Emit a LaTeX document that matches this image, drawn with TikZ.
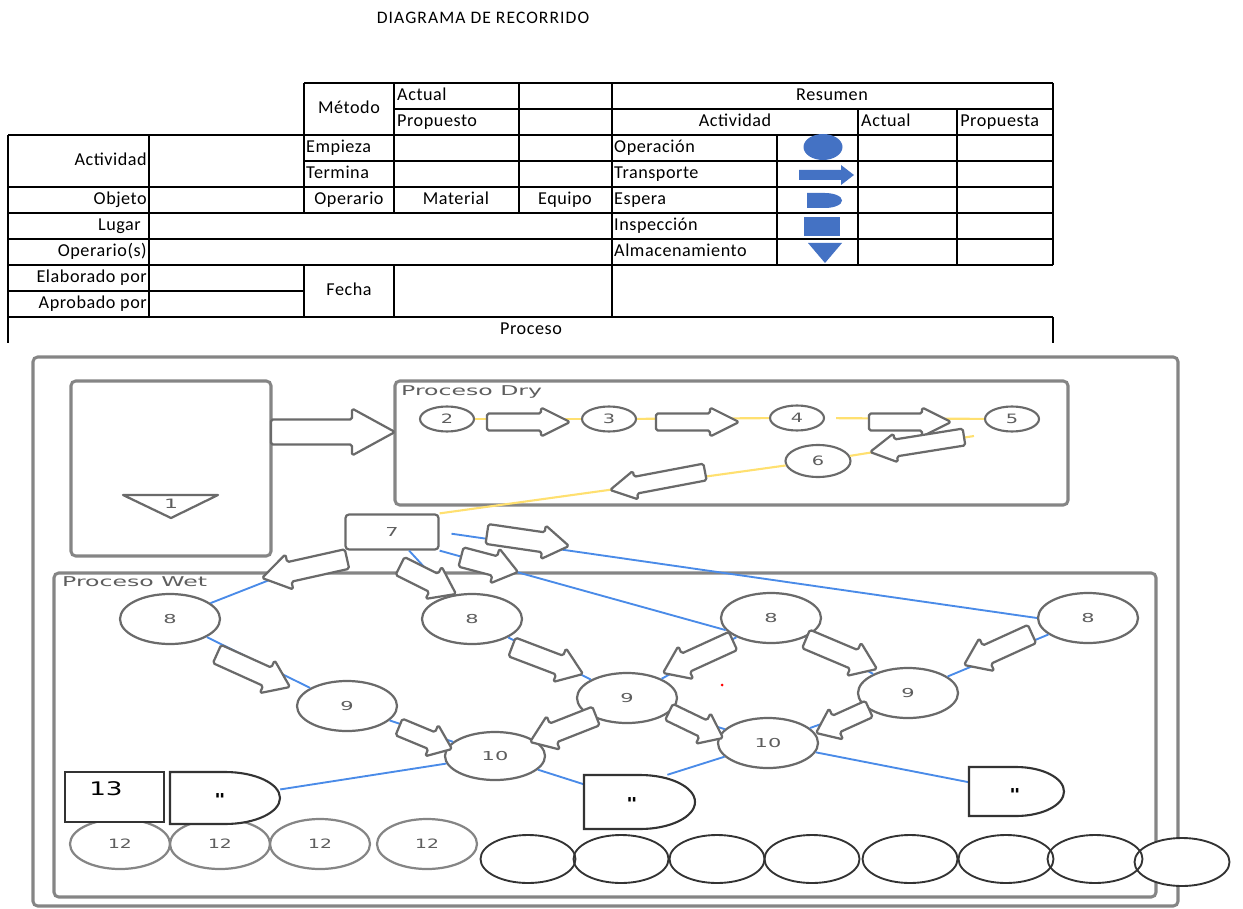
\documentclass[tikz,border=0pt]{standalone}
\usepackage{fontspec}
\usepackage{graphicx}
\setmainfont{Carlito}
\newfontfamily\tabfont[LetterSpace=3.0]{Carlito}
\newfontfamily\titfont[LetterSpace=6.0]{Carlito}
\newfontfamily\dgfont{DejaVu Sans}
\usetikzlibrary{shapes.geometric,calc}
\definecolor{tblue}{HTML}{4472C4}
\definecolor{lblue}{HTML}{4A8BE8}
\definecolor{lyel}{HTML}{FFE070}
\definecolor{cgray}{HTML}{6A6A6A}
\definecolor{boxgray}{HTML}{858585}
\definecolor{tgray}{HTML}{5E5E5E}
\definecolor{dk}{HTML}{333333}
\newcommand\dgs[1]{\scalebox{1.7}[1]{#1}}
\newcommand\blkarrow[7]{%
  \pgfmathsetmacro\bdx{#3-#1}%
  \pgfmathsetmacro\bdy{#4-#2}%
  \pgfmathsetmacro\blen{veclen(\bdx,\bdy)}%
  \pgfmathsetmacro\bang{atan2(\bdy,\bdx)}%
  \pgfmathsetmacro\bhb{\blen-#7}%
  \begin{scope}[shift={(#1,#2)},rotate=-\bang]
    \draw[barr] (0,-#5) -- (\bhb,-#5) -- (\bhb,-#6) -- (\blen,0) -- (\bhb,#6) -- (\bhb,#5) -- (0,#5) -- cycle;
  \end{scope}}
\begin{document}
\begin{tikzpicture}[x=0.03cm,y=-0.03cm,
  tbl/.style={line width=1.1pt, black},
  tt/.style={inner sep=0pt, font=\tabfont\fontsize{15.5}{18}\selectfont, text height=11pt, text depth=3pt},
  gbox/.style={draw=boxgray, line width=2.6pt, rounded corners=4pt},
  circ/.style={ellipse, draw=cgray, line width=1.9pt, fill=white, inner sep=0pt, text=tgray, font=\dgfont\fontsize{10.5}{12}\selectfont},
  dcirc/.style={circ, line width=1.8pt, minimum width=1.62cm, minimum height=0.75cm, font=\dgfont\fontsize{11}{12}\selectfont},
  wcirc/.style={circ, minimum width=3cm, minimum height=1.5cm},
  bcirc/.style={ellipse, draw=dk, line width=1.6pt, inner sep=0pt, minimum width=2.85cm, minimum height=1.44cm},
  barr/.style={draw=cgray, line width=1.9pt, fill=white, line join=round, rounded corners=1.5pt},
  bl/.style={draw=lblue, line width=1.6pt},
  yl/.style={draw=lyel, line width=1.8pt},
  lab/.style={inner sep=0pt, text=tgray, font=\dgfont\fontsize{11.5}{13}\selectfont},
  dsh/.style={draw=dk, line width=1.8pt, fill=white},
]
\useasboundingbox (0,0) rectangle (1243,909);
% ---------- title ----------
\node[font=\titfont\fontsize{15}{18}\selectfont] (title) at (483,18) {DIAGRAMA DE RECORRIDO};
% ---------- table lines ----------
\draw[tbl] (304,83)--(1053,83) (394,109)--(1053,109) (8,135)--(1053,135)
  (304,161)--(1053,161) (8,187)--(1053,187) (8,213)--(1053,213)
  (8,239)--(1053,239) (8,265)--(1053,265) (8,291)--(304,291) (8,317)--(1053,317);
\draw[tbl] (8,135)--(8,343) (149,135)--(149,317)
  (304,83)--(304,213) (304,265)--(304,317)
  (394,83)--(394,213) (394,265)--(394,317)
  (519,83)--(519,213) (612,83)--(612,317)
  (777,135)--(777,265) (858,109)--(858,265) (957,109)--(957,265)
  (1053,83)--(1053,265) (1053,317)--(1053,343);
% ---------- table texts ----------
\node[tt] (tMet) at (349,109) {Método};
\node[tt,anchor=west] (tAct1) at (397,96) {Actual};
\node[tt,anchor=west] (tProp1) at (397,122) {Propuesto};
\node[tt] (tRes) at (832,96) {Resumen};
\node[tt] (tActv2) at (735,122) {Actividad};
\node[tt,anchor=west] (tAct2) at (861,122) {Actual};
\node[tt,anchor=west] (tProp2) at (960,122) {Propuesta};
\node[tt,anchor=east] (tActv) at (147,161) {Actividad};
\node[tt,anchor=west] (tEmp) at (306,148) {Empieza};
\node[tt,anchor=west] (tTer) at (306,174) {Termina};
\node[tt,anchor=west] (tOpe) at (614,148) {Operación};
\node[tt,anchor=west] (tTra) at (614,174) {Transporte};
\node[tt,anchor=west] (tEsp) at (614,200) {Espera};
\node[tt,anchor=west] (tIns) at (614,226) {Inspección};
\node[tt,anchor=west] (tAlm) at (614,252) {Almacenamiento};
\node[tt,anchor=east] (tObj) at (147,200) {Objeto};
\node[tt] (tOpr) at (349,200) {Operario};
\node[tt] (tMat) at (456,200) {Material};
\node[tt] (tEqu) at (565,200) {Equipo};
\node[tt,anchor=east] (tLug) at (141,226) {Lugar};
\node[tt,anchor=east] (tOps) at (147,252) {Operario(s)};
\node[tt,anchor=east] (tEla) at (147,278) {Elaborado por};
\node[tt,anchor=east] (tApr) at (147,304) {Aprobado por};
\node[tt] (tFec) at (349,291) {Fecha};
\node[tt] (tPro) at (531,330) {Proceso};
% ---------- symbols ----------
\node[ellipse, fill=tblue, inner sep=0pt, minimum width=1.17cm, minimum height=0.78cm] (sOp) at (823,147) {};
\fill[tblue] (799,170) -- (841,170) -- (841,165) -- (854,175) -- (841,185) -- (841,180) -- (799,180) -- cycle;
\fill[tblue] (807,193) -- (825,193) arc[start angle=90,end angle=-90,x radius=0.51cm,y radius=0.225cm] -- (807,208) -- cycle;
\fill[tblue] (804,217) rectangle (840,236);
\fill[tblue] (808,243) -- (842,243) -- (825,263) -- cycle;
% ---------- containers ----------
\draw[gbox] (33,357) rectangle (1178,906);
\draw[gbox] (71,381) rectangle (271,556);
\draw[gbox] (395,381) rectangle (1068,505);
\draw[gbox] (54,573) rectangle (1156,897);
\node[lab,anchor=west] (ldry) at (401,392) {\scalebox{1.75}[1]{Proceso Dry}};
\node[lab,anchor=west] (lwet) at (62,582) {\scalebox{1.75}[1]{Proceso Wet}};
% storage triangle
\draw[draw=cgray, line width=1.9pt, line join=round] (123,495) -- (218,495) -- (171,518) -- cycle;
\node[lab, font=\dgfont\fontsize{11}{12}\selectfont] (t1) at (171,504) {\dgs{1}};
% ---------- nodes ----------
\node[dcirc] (d2) at (447,419) {\scalebox{1.5}[1]{2}};
\node[dcirc] (d3) at (609,419) {\scalebox{1.5}[1]{3}};
\node[dcirc] (d4) at (797,418) {\scalebox{1.5}[1]{4}};
\node[dcirc] (d5) at (1012,419) {\scalebox{1.5}[1]{5}};
\node[dcirc, minimum width=1.95cm, minimum height=0.96cm] (d6) at (818,461) {\scalebox{1.5}[1]{6}};
\node[draw=cgray, line width=1.9pt, rounded corners=3pt, fill=white, minimum width=2.79cm, minimum height=1.05cm, inner sep=0pt, text=tgray, font=\dgfont\fontsize{10.5}{12}\selectfont] (n7) at (392,532) {\dgs{7}};
\node[wcirc] (w8a) at (170,619) {\dgs{8}};
\node[wcirc] (w8b) at (472,619) {\dgs{8}};
\node[wcirc] (w8c) at (771,618) {\dgs{8}};
\node[wcirc] (w8d) at (1088,618) {\dgs{8}};
\node[wcirc] (w9a) at (347,706) {\dgs{9}};
\node[wcirc] (w9b) at (627,698) {\dgs{9}};
\node[wcirc] (w9c) at (908,693) {\dgs{9}};
\node[wcirc, minimum height=1.44cm] (w10a) at (495,756) {\dgs{10}};
\node[wcirc] (w10b) at (768,743) {\dgs{10}};
% delay shapes and box 13
\node[inner sep=0pt, minimum width=3.3cm, minimum height=1.56cm] (dA) at (225,798) {};
\node[inner sep=0pt, minimum width=3.33cm, minimum height=1.62cm] (dB) at (639.5,802) {};
\node[inner sep=0pt, minimum width=2.85cm, minimum height=1.47cm] (dC) at (1016.5,791.5) {};
% ---------- connectors ----------
\draw[yl] (d2) -- (d3);
\draw[yl] (d3) -- (d4);
\draw[yl, shorten <=0.33cm] (d4) -- (d5);
\coordinate (y5) at (974,436);
\draw[yl] (y5) -- (d6);
\draw[yl] (d6) -- (n7.north east);
\draw[bl] (n7) -- (w8a);
\draw[bl] (n7) -- (w8b);
\draw[bl] (n7.south east) -- (w8c.195);
\draw[bl, shorten <=0.36cm] (n7.east) -- (w8d.west);
\draw[bl] (w8a) -- (w9a);
\draw[bl] (w9a) -- (w10a);
\draw[bl] (w8b) -- (w9b);
\draw[bl] (w8c) -- (w9b);
\draw[bl] (w8c) -- (w9c);
\draw[bl] (w8d) -- (w9c);
\draw[bl] (w9b) -- (w10a);
\draw[bl] (w9b) -- (w10b);
\draw[bl] (w9c) -- (w10b);
\draw[bl] (w10a) -- (dA);
\draw[bl] (w10a) -- (dB);
\draw[bl] (w10b) -- ($(dB.north)!0.5!(dB.north east)$);
\draw[bl] (w10b) -- (dC);
% ---------- block arrows ----------
\blkarrow{271}{432}{395}{432}{12.5}{23.5}{43}
\blkarrow{487}{422}{570}{422}{8.5}{14.5}{29}
\blkarrow{656}{422}{739}{422}{8.5}{14.5}{29}
\blkarrow{869}{422}{951}{422}{8.5}{14.5}{29}
\blkarrow{964}{437}{870}{452}{8.5}{14.5}{26}
\blkarrow{705}{472}{610}{490}{8.5}{14.5}{26}
\blkarrow{347}{559}{262}{578}{10}{18}{28}
\blkarrow{400}{566}{456}{594}{10}{18}{25}
\blkarrow{461}{557}{518}{572}{10}{18}{24}
\blkarrow{487}{534}{569}{546}{10}{17}{26}
\blkarrow{217}{654}{290}{687}{10}{18}{25}
\blkarrow{399}{727}{452}{749}{9}{17}{22}
\blkarrow{512}{647}{583}{674}{10}{18}{25}
\blkarrow{733}{641}{663}{673}{10}{18}{25}
\blkarrow{806}{639}{877}{669}{10}{18}{25}
\blkarrow{1032}{634}{964}{665}{10}{18}{25}
\blkarrow{596}{716}{530}{742}{10}{18}{25}
\blkarrow{669}{712}{723}{738}{9}{17}{22}
\blkarrow{869}{709}{816}{733}{9}{17}{22}
% red dot
\fill[red] (722,685) circle[radius=1.5];
% ---------- bottom row ----------
\foreach \cx/\cy in {528/859,621/859,717/859,812/859,910/859,1006/859,1095/859,1182/862}
  \fill[white] (\cx,\cy) ellipse[x radius=1.425cm, y radius=0.72cm];
\foreach \cx in {120,220,320,427}
  \fill[white] (\cx,844) ellipse[x radius=1.5cm, y radius=0.75cm];
\node[circ, fill=none, draw=boxgray, minimum width=3cm, minimum height=1.5cm, font=\dgfont\fontsize{11}{13}\selectfont] (c12a) at (120,844) {\scalebox{1.45}[1]{12}};
\node[circ, fill=none, draw=boxgray, minimum width=3cm, minimum height=1.5cm, font=\dgfont\fontsize{11}{13}\selectfont] (c12b) at (220,844) {\scalebox{1.45}[1]{12}};
\node[circ, fill=none, draw=boxgray, minimum width=3cm, minimum height=1.5cm, font=\dgfont\fontsize{11}{13}\selectfont] (c12c) at (320,844) {\scalebox{1.45}[1]{12}};
\node[circ, fill=none, draw=boxgray, minimum width=3cm, minimum height=1.5cm, font=\dgfont\fontsize{11}{13}\selectfont] (c12d) at (427,844) {\scalebox{1.45}[1]{12}};
\node[bcirc] (e1) at (528,859) {};
\node[bcirc] (e2) at (621,859) {};
\node[bcirc] (e3) at (717,859) {};
\node[bcirc] (e4) at (812,859) {};
\node[bcirc] (e5) at (910,859) {};
\node[bcirc] (e6) at (1006,859) {};
\node[bcirc] (e7) at (1095,859) {};
\node[bcirc] (e8) at (1182,862) {};
% box 13 and delay shapes
\node[draw=dk, line width=1.8pt, fill=white, minimum width=2.97cm, minimum height=1.5cm, inner sep=0pt] (b13) at (114.5,797) {};
\node[inner sep=0pt, font=\dgfont\fontsize{16}{18}\selectfont] (t13) at (106,789) {\scalebox{1.4}[1]{13}};
\draw[dsh] (170,772) -- (225,772) arc[start angle=90,end angle=-90,x radius=1.65cm,y radius=0.78cm] -- (170,824) -- cycle;
\draw[dsh] (584,775) -- (640,775) arc[start angle=90,end angle=-90,x radius=1.65cm,y radius=0.81cm] -- (584,829) -- cycle;
\draw[dsh] (969,767) -- (1016,767) arc[start angle=90,end angle=-90,x radius=1.44cm,y radius=0.735cm] -- (969,816) -- cycle;
\node[inner sep=0pt, font=\dgfont\bfseries\fontsize{14}{15}\selectfont] (qA) at (220,800) {\scalebox{1.3}[1]{"}};
\node[inner sep=0pt, font=\dgfont\bfseries\fontsize{14}{15}\selectfont] (qB) at (632,804) {\scalebox{1.3}[1]{"}};
\node[inner sep=0pt, font=\dgfont\bfseries\fontsize{14}{15}\selectfont] (qC) at (1015,795) {\scalebox{1.3}[1]{"}};
\end{tikzpicture}
\end{document}
